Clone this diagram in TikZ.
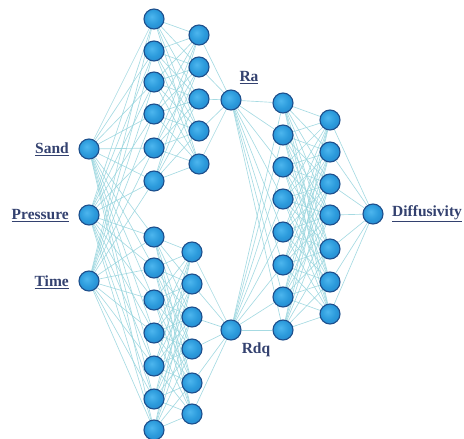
\documentclass[tikz,border=0pt]{standalone}
\usepackage{fontspec}
\setmainfont{Liberation Serif}
\usetikzlibrary{backgrounds}
\definecolor{linkcol}{HTML}{96D4DD}
\definecolor{rimcol}{HTML}{1D4F8C}
\definecolor{labcol}{HTML}{33416F}
\definecolor{coreA}{HTML}{4DB6EE}
\definecolor{coreB}{HTML}{2C9BDC}
\definecolor{coreC}{HTML}{2280C8}
\definecolor{coreD}{HTML}{1E64A8}
\pgfdeclareradialshading{neuronfill}{\pgfpoint{-6bp}{6bp}}{%
  color(0bp)=(coreA);
  color(18bp)=(coreB);
  color(38bp)=(coreC);
  color(50bp)=(coreD);
  color(70bp)=(coreD)}
\tikzset{
  neuron/.style={circle, minimum size=20pt, inner sep=0pt, draw=rimcol,
    line width=1.1pt, shading=neuronfill},
  link/.style={draw=linkcol, line width=0.65pt, opacity=0.85},
  lab/.style={font=\fontsize{15.5}{16}\selectfont\bfseries, text=labcol, inner sep=0pt}
}
\begin{document}
\begin{tikzpicture}[x=1pt, y=-1pt]
\useasboundingbox (0,0) rectangle (464,439);
% inputs
\node[neuron] (in1) at (89,149) {};
\node[neuron] (in2) at (89,215) {};
\node[neuron] (in3) at (89,281) {};
% upper branch
\foreach \y [count=\i] in {19,51,82,114,148,181}
  \node[neuron] (a\i) at (154,\y) {};
\foreach \y [count=\i] in {35,67,99,131,164}
  \node[neuron] (b\i) at (199,\y) {};
\node[neuron] (ra) at (231,100) {};
% lower branch
\foreach \y [count=\i] in {237,268,300,333,366,399,430}
  \node[neuron] (c\i) at (154,\y) {};
\foreach \y [count=\i] in {252,284,317,349,383,414}
  \node[neuron] (d\i) at (192,\y) {};
\node[neuron] (rdq) at (231,330) {};
% output branch
\foreach \y [count=\i] in {103,135,167,199,232,265,297,330}
  \node[neuron] (e\i) at (283,\y) {};
\foreach \y [count=\i] in {120,152,184,215,249,282,314}
  \node[neuron] (f\i) at (330,\y) {};
\node[neuron] (out) at (373,214) {};
% connections
\begin{scope}[on background layer]
  \foreach \i in {1,2,3}{
    \foreach \j in {1,...,6} \draw[link] (in\i) -- (a\j);
    \foreach \j in {1,...,7} \draw[link] (in\i) -- (c\j);
  }
  \foreach \i in {1,...,6}
    \foreach \j in {1,...,5} \draw[link] (a\i) -- (b\j);
  \foreach \j in {1,...,5} \draw[link] (b\j) -- (ra);
  \foreach \i in {1,...,7}
    \foreach \j in {1,...,6} \draw[link] (c\i) -- (d\j);
  \foreach \j in {1,...,6} \draw[link] (d\j) -- (rdq);
  \foreach \j in {1,...,8}{
    \draw[link] (ra) -- (e\j);
    \draw[link] (rdq) -- (e\j);
  }
  \foreach \i in {1,...,8}
    \foreach \j in {1,...,7} \draw[link] (e\i) -- (f\j);
  \foreach \j in {1,...,7} \draw[link] (f\j) -- (out);
\end{scope}
% labels
\node[lab, anchor=east] (lsand) at (69,149) {\underline{Sand}};
\node[lab, anchor=east] (lpress) at (69,216) {\underline{Pressure}};
\node[lab, anchor=east] (ltime) at (69,282) {\underline{Time}};
\node[lab] (lra) at (249,78) {\underline{Ra}};
\node[lab] (lrdq) at (256,350) {Rdq};
\node[lab, anchor=west] (lout) at (392,214) {\underline{Diffusivity}};
\end{tikzpicture}
\end{document}
